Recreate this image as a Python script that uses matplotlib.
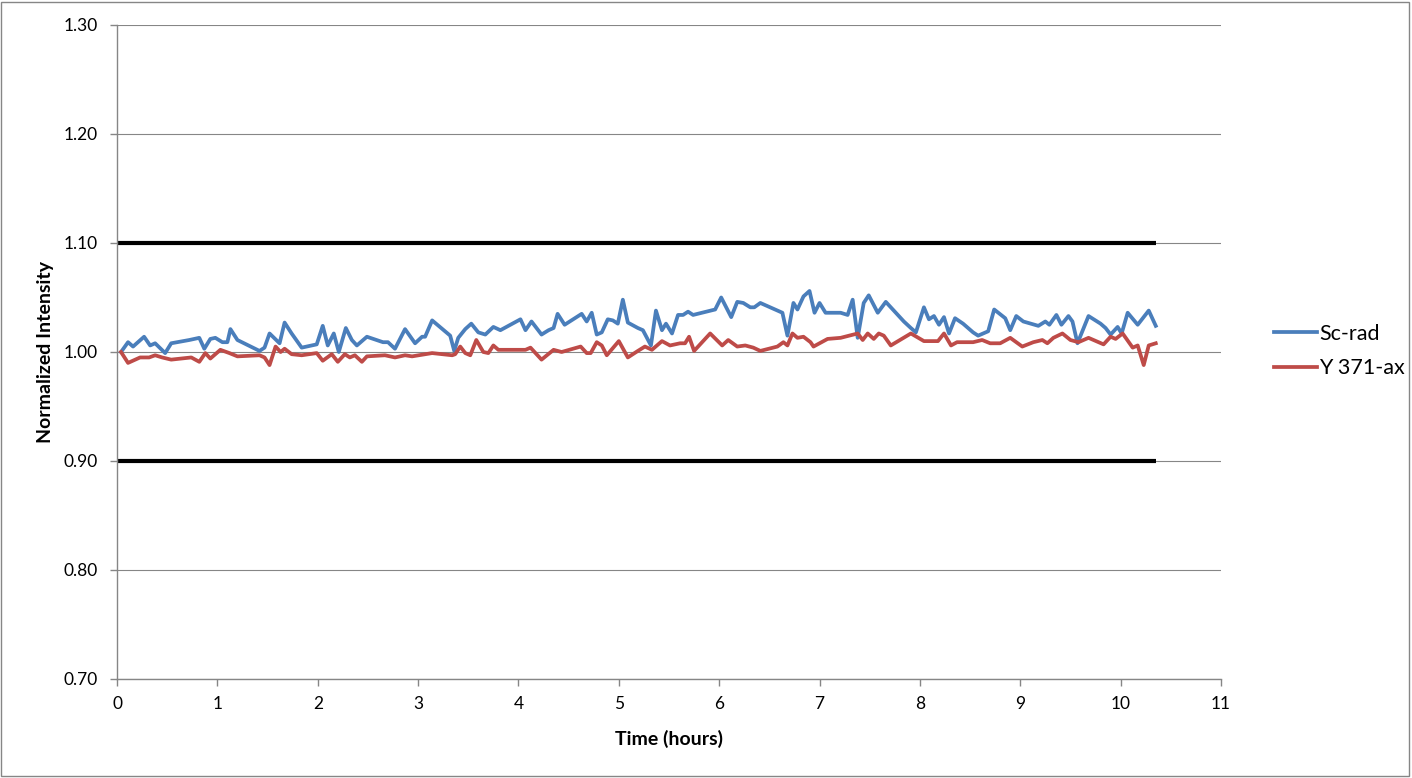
import matplotlib
matplotlib.use("Agg")
import matplotlib.pyplot as plt
from matplotlib.patches import Rectangle

plt.rcParams['font.family'] = ['Lato', 'DejaVu Sans']

# Sc-rad series (time in hours, normalized intensity)
sc_time = [0.04, 0.11, 0.16, 0.27, 0.33, 0.38, 0.48, 0.54, 0.72, 0.82, 0.87, 0.93, 0.98, 1.05, 1.10, 1.13,
           1.20, 1.42, 1.47, 1.52, 1.62, 1.67, 1.74, 1.84, 1.99, 2.05, 2.10, 2.16, 2.21, 2.28, 2.34, 2.39,
           2.49, 2.65, 2.70, 2.77, 2.87, 2.97, 3.04, 3.07, 3.14, 3.32, 3.36, 3.40, 3.47, 3.53, 3.60, 3.67,
           3.75, 3.82, 4.02, 4.07, 4.13, 4.23, 4.30, 4.35, 4.39, 4.46, 4.63, 4.68, 4.73, 4.78, 4.83, 4.89,
           4.94, 4.99, 5.04, 5.09, 5.19, 5.24, 5.32, 5.37, 5.43, 5.47, 5.53, 5.59, 5.64, 5.69, 5.74, 5.96,
           6.02, 6.12, 6.18, 6.24, 6.31, 6.35, 6.41, 6.63, 6.68, 6.74, 6.78, 6.84, 6.90, 6.95, 7.00, 7.06,
           7.21, 7.28, 7.33, 7.38, 7.44, 7.49, 7.58, 7.66, 7.84, 7.91, 7.96, 8.04, 8.09, 8.14, 8.19, 8.24,
           8.29, 8.35, 8.43, 8.53, 8.58, 8.68, 8.74, 8.85, 8.90, 8.96, 9.03, 9.18, 9.25, 9.29, 9.36, 9.41,
           9.48, 9.52, 9.57, 9.68, 9.80, 9.85, 9.90, 9.97, 10.01, 10.07, 10.17, 10.28, 10.35]
sc_value = [1.000, 1.009, 1.005, 1.014, 1.006, 1.008, 0.999, 1.008, 1.011, 1.013, 1.003, 1.012, 1.013, 1.009, 1.009, 1.021,
            1.011, 1.001, 1.004, 1.017, 1.008, 1.027, 1.017, 1.004, 1.007, 1.024, 1.006, 1.017, 1.000, 1.022, 1.011, 1.006,
            1.014, 1.009, 1.009, 1.003, 1.021, 1.008, 1.014, 1.014, 1.029, 1.015, 1.001, 1.013, 1.021, 1.026, 1.018, 1.016,
            1.023, 1.020, 1.030, 1.020, 1.028, 1.016, 1.020, 1.022, 1.035, 1.025, 1.035, 1.028, 1.036, 1.016, 1.018, 1.030,
            1.029, 1.026, 1.048, 1.027, 1.022, 1.020, 1.006, 1.038, 1.020, 1.026, 1.017, 1.034, 1.034, 1.037, 1.034, 1.039,
            1.050, 1.032, 1.046, 1.045, 1.041, 1.041, 1.045, 1.036, 1.015, 1.045, 1.039, 1.051, 1.056, 1.036, 1.045, 1.036,
            1.036, 1.034, 1.048, 1.013, 1.045, 1.052, 1.036, 1.046, 1.028, 1.022, 1.018, 1.041, 1.030, 1.033, 1.025, 1.032,
            1.017, 1.031, 1.026, 1.018, 1.015, 1.019, 1.039, 1.031, 1.020, 1.033, 1.028, 1.024, 1.028, 1.025, 1.034, 1.025,
            1.033, 1.028, 1.008, 1.033, 1.026, 1.022, 1.016, 1.023, 1.017, 1.036, 1.025, 1.038, 1.024]

# Y 371-ax series
y_time = [0.04, 0.11, 0.23, 0.32, 0.38, 0.45, 0.54, 0.74, 0.82, 0.88, 0.93, 1.03, 1.12, 1.20, 1.42, 1.47,
          1.52, 1.58, 1.63, 1.67, 1.74, 1.84, 1.99, 2.05, 2.14, 2.20, 2.27, 2.32, 2.37, 2.44, 2.49, 2.67,
          2.77, 2.87, 2.94, 3.14, 3.34, 3.37, 3.42, 3.47, 3.52, 3.58, 3.65, 3.70, 3.75, 3.80, 4.07, 4.12,
          4.23, 4.35, 4.43, 4.62, 4.68, 4.72, 4.78, 4.83, 4.88, 5.00, 5.09, 5.19, 5.26, 5.33, 5.43, 5.51,
          5.61, 5.66, 5.70, 5.75, 5.91, 6.03, 6.09, 6.18, 6.26, 6.34, 6.41, 6.58, 6.64, 6.68, 6.73, 6.78,
          6.84, 6.91, 6.94, 7.08, 7.21, 7.38, 7.43, 7.48, 7.54, 7.59, 7.64, 7.71, 7.91, 8.04, 8.18, 8.24,
          8.31, 8.37, 8.53, 8.62, 8.70, 8.80, 8.90, 9.02, 9.13, 9.22, 9.27, 9.33, 9.42, 9.50, 9.58, 9.68,
          9.83, 9.90, 9.95, 10.02, 10.12, 10.17, 10.23, 10.28, 10.35]
y_value = [1.000, 0.990, 0.995, 0.995, 0.997, 0.995, 0.993, 0.995, 0.991, 0.999, 0.994, 1.002, 0.999, 0.996, 0.997, 0.995,
           0.988, 1.005, 1.000, 1.003, 0.998, 0.997, 0.999, 0.992, 0.998, 0.991, 0.998, 0.995, 0.997, 0.991, 0.996, 0.997,
           0.995, 0.997, 0.996, 0.999, 0.997, 0.998, 1.005, 0.999, 0.997, 1.011, 1.000, 0.999, 1.006, 1.002, 1.002, 1.004,
           0.993, 1.002, 1.000, 1.005, 0.999, 0.999, 1.009, 1.006, 0.997, 1.010, 0.995, 1.001, 1.005, 1.002, 1.010, 1.006,
           1.008, 1.008, 1.014, 1.001, 1.017, 1.006, 1.011, 1.005, 1.006, 1.004, 1.001, 1.005, 1.009, 1.006, 1.017, 1.013,
           1.014, 1.009, 1.005, 1.012, 1.013, 1.017, 1.011, 1.017, 1.012, 1.017, 1.015, 1.006, 1.017, 1.010, 1.010, 1.017,
           1.006, 1.009, 1.009, 1.011, 1.008, 1.008, 1.013, 1.005, 1.009, 1.011, 1.008, 1.013, 1.017, 1.011, 1.009, 1.013,
           1.007, 1.014, 1.012, 1.017, 1.004, 1.006, 0.988, 1.006, 1.008]

# Limit lines
limit_time = [0.0, 10.35]
upper_limit = [1.10, 1.10]
lower_limit = [0.90, 0.90]

series_names = ["Sc-rad", "Y 371-ax"]
x_ticks = list(range(0, 12))
y_ticks = [0.70, 0.80, 0.90, 1.00, 1.10, 1.20, 1.30]

fig = plt.figure(figsize=(14.12, 7.78), dpi=100)
ax = fig.add_axes([117 / 1412, 1 - 679 / 778, (1221 - 117) / 1412, (679 - 25) / 778])

ax.set_xlim(0, 11)
ax.set_ylim(0.70, 1.30)
ax.set_xticks(x_ticks)
ax.set_yticks(y_ticks)
ax.set_yticklabels([f"{v:.2f}" for v in y_ticks])
ax.yaxis.grid(True, color="#868686", linewidth=0.8)
ax.set_axisbelow(True)

for side in ["top", "right"]:
    ax.spines[side].set_visible(False)
for side in ["left", "bottom"]:
    ax.spines[side].set_color("#868686")
    ax.spines[side].set_linewidth(1.0)
ax.tick_params(axis="both", colors="#868686", length=5, width=1.0, labelsize=12.5,
               labelcolor="black", direction="out")
ax.tick_params(axis="x", pad=7)
ax.tick_params(axis="y", pad=9)

ax.plot(limit_time, upper_limit, color="black", linewidth=3.0, solid_capstyle="butt")
ax.plot(limit_time, lower_limit, color="black", linewidth=3.0, solid_capstyle="butt")
l1, = ax.plot(sc_time, sc_value, color="#4A7EBB", linewidth=2.7, label=series_names[0])
l2, = ax.plot(y_time, y_value, color="#BE4B48", linewidth=2.7, label=series_names[1])

ax.set_xlabel("Time (hours)", fontsize=14, fontweight="bold", labelpad=13)
ax.set_ylabel("Normalized Intensity", fontsize=14, fontweight="bold", labelpad=7)

leg = fig.legend(handles=[l1, l2], loc="center left", bbox_to_anchor=(1255 / 1412, 1 - 351 / 778),
                 frameon=False, fontsize=15.5, handlelength=2.0, handletextpad=0.08,
                 labelspacing=0.68)

fig.patches.append(Rectangle((0.001, 0.002), 0.997, 0.995, transform=fig.transFigure,
                             fill=False, edgecolor="#868686", linewidth=1.0))

fig.savefig("out.png", dpi=100)
